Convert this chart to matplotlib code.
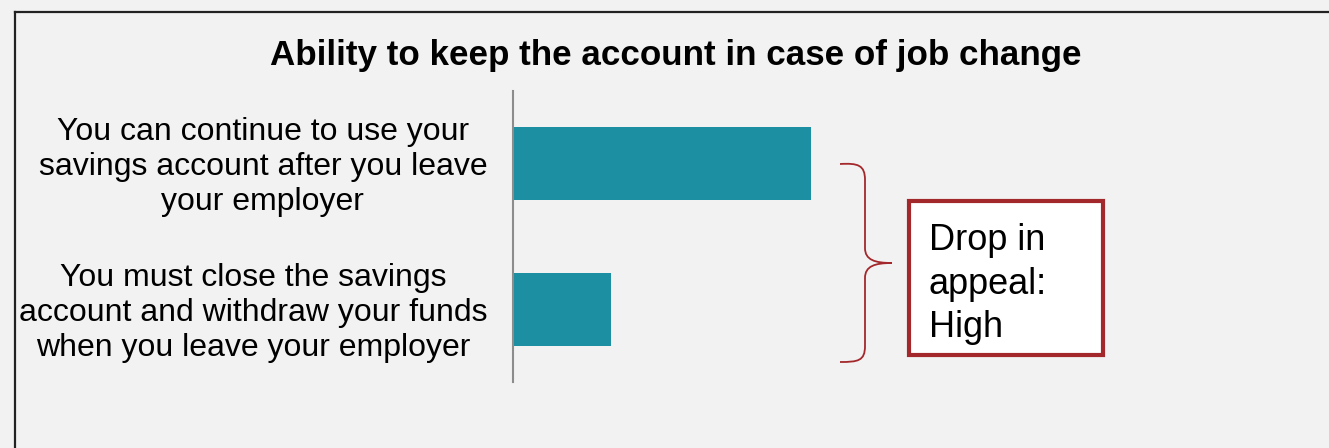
import matplotlib.pyplot as plt
from matplotlib.path import Path
from matplotlib.patches import PathPatch, Rectangle
from matplotlib.lines import Line2D
from matplotlib.transforms import Affine2D

plt.rcParams['font.family'] = ['Liberation Sans', 'DejaVu Sans']

# Daten
labels = [
    'You can continue to use your\nsavings account after you leave\nyour employer',
    'You must close the savings\naccount and withdraw your funds\nwhen you leave your employer',
]
values = [0.497, 0.163]
title = 'Ability to keep the account in case of job change'
note = 'Drop in\nappeal:\nHigh'

bg = '#f2f2f2'
teal = '#1c8fa2'
red = '#a3282b'

W, H = 1329, 448
fig = plt.figure(figsize=(W / 100, H / 100), dpi=100, facecolor=bg)

# Pixel-Koordinaten (y nach unten) -> Figur
px = Affine2D().scale(1 / W, -1 / H).translate(0, 1) + fig.transFigure

# Rahmen (nur oben und links sichtbar)
fig.add_artist(Line2D([15, W], [12, 12], transform=px, color='#222222', lw=1.6))
fig.add_artist(Line2D([15, 15], [12, H], transform=px, color='#222222', lw=1.6))

fig.text(676 / W, 1 - 55 / H, title, ha='center', va='center',
         fontsize=25.2, fontweight='bold')

ax = fig.add_axes([513 / W, 1 - 382 / H, 600 / W, 291 / H])
ax.set_facecolor('none')
pos = list(range(len(values)))
ax.barh(pos, values, height=0.5, color=teal)
ax.set_xlim(0, 1)
ax.set_ylim(1.497, -0.497)
for s in ['top', 'right', 'bottom']:
    ax.spines[s].set_visible(False)
ax.spines['left'].set_color('#8c8c8c')
ax.spines['left'].set_linewidth(1.5)
ax.set_xticks([])
ax.set_yticks([])
for p, lab in zip(pos, labels):
    ax.text(-0.043, p + 0.025, lab, transform=ax.get_yaxis_transform(), ha='right',
            va='center', multialignment='center', fontsize=23, linespacing=1.22)

# Geschweifte Klammer
verts = [
    (840, 164), (858, 163), (865, 165), (865, 180),
    (865, 248),
    (865, 260), (875, 263), (892, 263),
    (875, 263), (865, 266), (865, 278),
    (865, 346),
    (865, 361), (858, 362), (840, 362),
]
codes = [Path.MOVETO, Path.CURVE4, Path.CURVE4, Path.CURVE4,
         Path.LINETO,
         Path.CURVE4, Path.CURVE4, Path.CURVE4,
         Path.CURVE4, Path.CURVE4, Path.CURVE4,
         Path.LINETO,
         Path.CURVE4, Path.CURVE4, Path.CURVE4]
fig.add_artist(PathPatch(Path(verts, codes), transform=px, fill=False,
                         edgecolor=red, lw=1.3))

# Hinweisbox
fig.add_artist(Rectangle((909, 201), 194, 154, transform=px, facecolor='white',
                         edgecolor=red, lw=3))
fig.text(929 / W, 1 - 284 / H, note, ha='left', va='center',
         fontsize=26, linespacing=1.3)

fig.savefig('out.png', dpi=100, facecolor=bg)
